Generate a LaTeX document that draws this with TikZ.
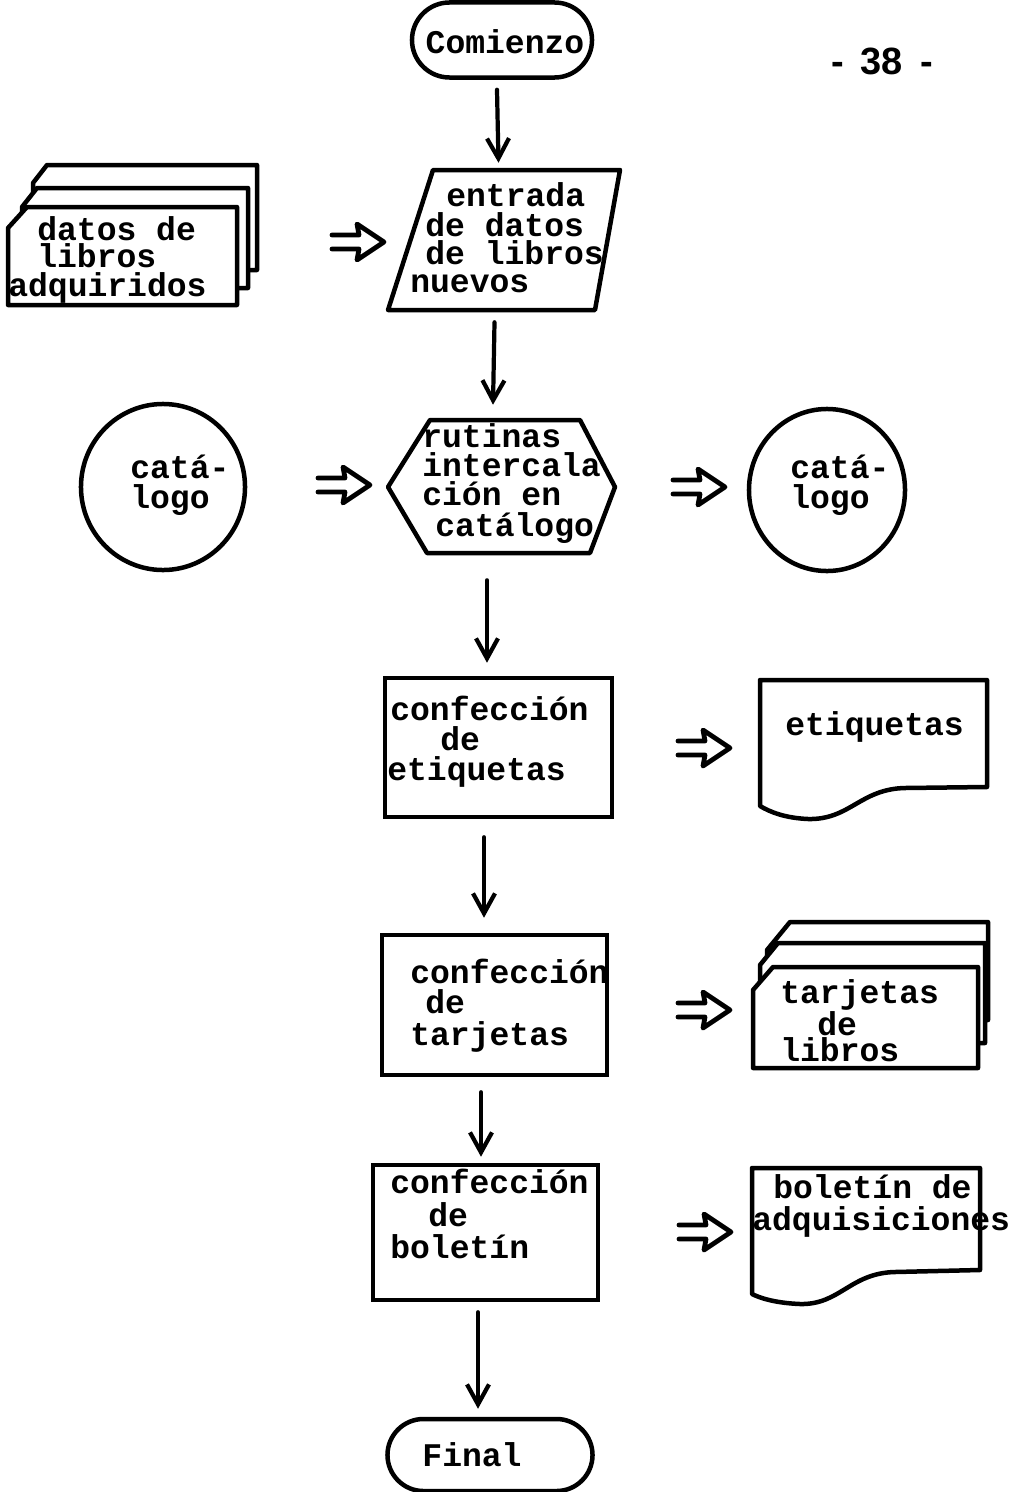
\documentclass[tikz,border=0pt]{standalone}
\usepackage{fontspec}
\newfontfamily\tw{Liberation Mono}
\newfontfamily\labsans{Liberation Sans}
\usetikzlibrary{shapes.misc,shapes.geometric,arrows.meta,calc,fit}
\begin{document}
\begin{tikzpicture}[x=0.025cm,y=-0.025cm,
  lw/.style={line width=3.2pt,line join=round,line cap=round},
  shp/.style={lw,draw,fill=white},
  boxn/.style={draw,line width=3.2pt,rectangle,inner sep=0},
  term/.style={draw,line width=3.2pt,rounded rectangle,inner sep=0},
  circ/.style={draw,line width=3.2pt,ellipse,inner sep=0},
  t/.style={inner sep=0,anchor=base west,font=\tw\bfseries\fontsize{23.5}{21}\selectfont},
  tc/.style={inner sep=0,anchor=center,font=\tw\bfseries\fontsize{23.5}{21}\selectfont},
  flow/.style={line width=3pt,line cap=round,-{Straight Barb[length=0.5cm,width=0.55cm,line width=3pt]}},
  implies/.pic={\draw[line width=3.4pt,line join=round,line cap=round]
     (-26,-7) -- (1,-7) -- (-1,-18) -- (26,0) -- (-1,18) -- (1,7) -- (-26,7);}
]
\useasboundingbox[fill=white] (0,0) rectangle (1016,1492);

% ---- Comienzo
\node[term,minimum width=4.5cm,minimum height=1.875cm] (comienzo) at (502,40) {};
\node[tc] (comienzot) at (505,42) {Comienzo};
\node[inner sep=0,font=\labsans\bfseries\fontsize{27}{30}\selectfont] (pagenum) at (882,61) {-\hspace{0.45em}38\hspace{0.45em}-};

% ---- left card stack (datos de libros adquiridos)
\draw[shp] (33,183) -- (47,165) -- (257,165) -- (257,270) -- (33,270) -- cycle;
\draw[shp] (22,207) -- (37,188) -- (248,188) -- (248,288) -- (22,288) -- cycle;
\draw[shp] (8,228) -- (27,207) -- (237,207) -- (237,305) -- (8,305) -- cycle;
\node[fit={(8,165)(257,305)},inner sep=0] (datos) {};
\node[t] (datos1) at (37,240) {datos de};
\node[t] (datos2) at (37,267) {libros};
\node[t] (datos3) at (8,296) {adquiridos};

% ---- parallelogram
\draw[lw] (433,170) -- (620,170) -- (595,310) -- (388,310) -- cycle;
\node[fit={(388,170)(620,310)},inner sep=0] (entr) {};
\node[t] (entr1) at (446,206) {entrada};
\node[t] (entr2) at (425,236) {de datos};
\node[t] (entr3) at (425,264) {de libros};
\node[t] (entr4) at (410,292) {nuevos};

% ---- hexagon
\draw[lw] (430,420) -- (580,420) -- (615,487) -- (590,553) -- (427,553) -- (388,487) -- cycle;
\node[fit={(388,420)(615,553)},inner sep=0] (hexa) {};
\node[t] (hexa1) at (422,447) {rutinas};
\node[t] (hexa2) at (422,476) {intercala};
\node[t] (hexa3) at (422,505) {ción en};
\node[t] (hexa4) at (435,536) {catálogo};

% ---- catalog circles
\node[circ,minimum width=4.1cm,minimum height=4.15cm] (catL) at (163,487) {};
\node[t] (catL1) at (130,478) {catá-};
\node[t] (catL2) at (130,508) {logo};
\node[circ,minimum width=3.9cm,minimum height=4.05cm] (catR) at (827,490) {};
\node[t] (catR1) at (790,478) {catá-};
\node[t] (catR2) at (790,508) {logo};

% ---- box 1 + etiquetas document
\node[boxn,minimum width=5.675cm,minimum height=3.475cm] (box1) at (498.5,747.5) {};
\node[t] (box1a) at (390,720) {confección};
\node[t] (box1b) at (440,750) {de};
\node[t] (box1c) at (387,780) {etiquetas};
\draw[lw] (760,680) -- (987,680) -- (987,787) -- (905,788)
   .. controls (860,789) and (850,820) .. (808,819)
   .. controls (785,818) and (770,812) .. (760,806) -- cycle;
\node[t] (etiq) at (785,735) {etiquetas};

% ---- box 2 + tarjetas card stack
\node[boxn,minimum width=5.625cm,minimum height=3.5cm] (box2) at (494.5,1005) {};
\node[t] (box2a) at (410,983) {confección};
\node[t] (box2b) at (425,1013) {de};
\node[t] (box2c) at (410,1045) {tarjetas};
\draw[shp] (767,950) -- (790,922) -- (988,922) -- (988,1020) -- (767,1020) -- cycle;
\draw[shp] (760,965) -- (778,943) -- (985,943) -- (985,1043) -- (760,1043) -- cycle;
\draw[shp] (753,990) -- (773,967) -- (978,967) -- (978,1068) -- (753,1068) -- cycle;
\node[t] (tarj1) at (780,1003) {tarjetas};
\node[t] (tarj2) at (817,1035) {de};
\node[t] (tarj3) at (780,1061) {libros};

% ---- box 3 + boletin document
\node[boxn,minimum width=5.625cm,minimum height=3.375cm] (box3) at (485.5,1232.5) {};
\node[t] (box3a) at (390,1193) {confección};
\node[t] (box3b) at (428,1226) {de};
\node[t] (box3c) at (390,1258) {boletín};
\draw[lw] (752,1168) -- (980,1168) -- (980,1270) -- (895,1272)
   .. controls (850,1273) and (840,1305) .. (800,1304)
   .. controls (775,1303) and (760,1298) .. (752,1294) -- cycle;
\node[t] (bol1) at (773,1198) {boletín de};
\node[t] (bol2) at (752,1230) {adquisiciones};

% ---- Final
\node[term,minimum width=5.125cm,minimum height=1.8cm] (final) at (490,1455) {};
\node[tc] (finalt) at (472,1455) {Final};

% ---- vertical flow arrows
\draw[flow] ($(comienzo.south)+(-5,10)$) -- ($(entr.north)+(-5.5,-7)$);
\draw[flow] ($(entr.south)+(-9.5,12)$) -- ($(hexa.north)+(-8.5,-15)$);
\draw[flow] ($(hexa.south)+(-14.5,27)$) -- ($(box1.north)+(-11.5,-13)$);
\draw[flow] ($(box1.south)+(-14.5,18)$) -- ($(box2.north)+(-10.5,-15)$);
\draw[flow] ($(box2.south)+(-13.5,15)$) -- ($(box3.north)+(-4.5,-6)$);
\draw[flow] ($(box3.south)+(-7.5,10)$) -- ($(final.north)+(-12,-8)$);

% ---- hollow data-flow arrows
\pic at (358,242) {implies};
\pic at (344,485) {implies};
\pic at (699,487) {implies};
\pic at (704,748) {implies};
\pic at (704,1010) {implies};
\pic at (705,1232) {implies};
\end{tikzpicture}
\end{document}
